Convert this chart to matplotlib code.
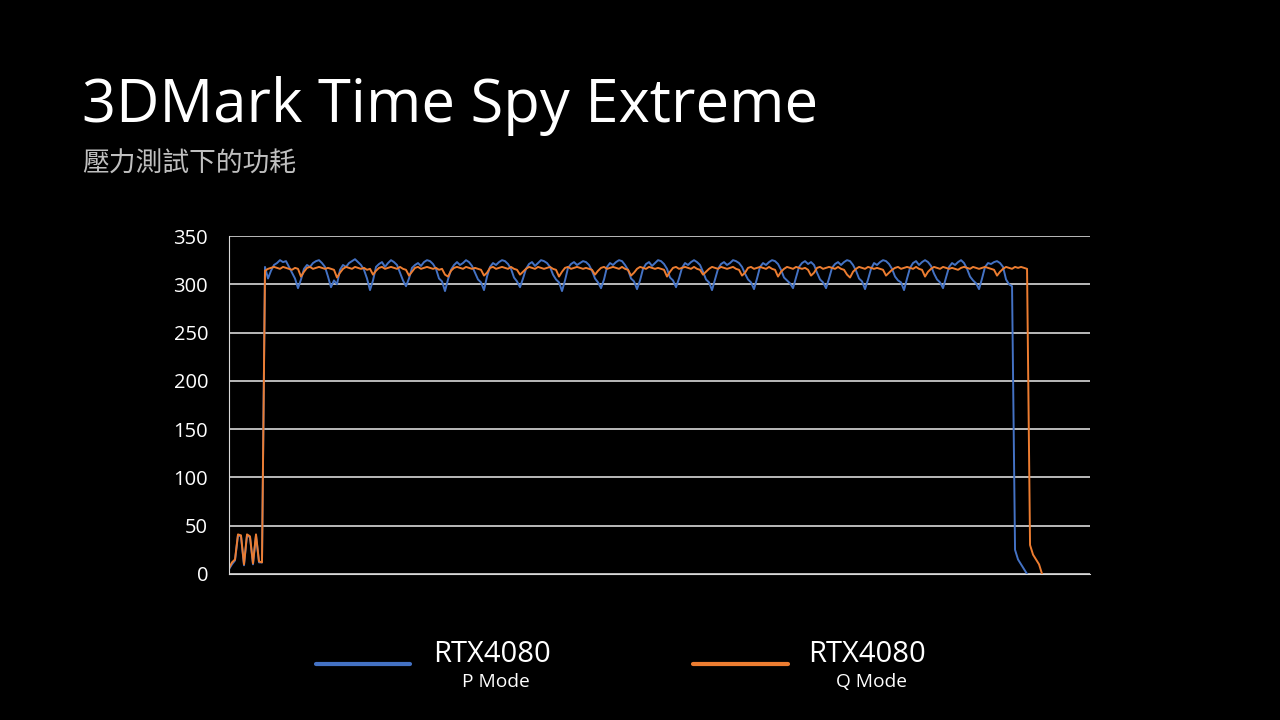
import numpy as np
import matplotlib.pyplot as plt
from matplotlib.lines import Line2D

# power draw samples (W), one sample per ~3 px
p_start = [5, 10, 14, 40, 39, 9, 40, 38, 10, 40, 12, 12]
p_body = [
    318, 306, 314, 320, 322, 325, 323, 324, 318, 312, 306, 296,
    305, 316, 320, 318, 322, 324, 325, 322, 318, 308, 297,
    304, 300, 315, 320, 318, 322, 324, 326, 323, 320, 315, 306, 294,
    304, 318, 321, 323, 318, 322, 325, 323, 320, 312, 304, 298,
    306, 317, 320, 322, 319, 323, 325, 324, 321, 316, 306, 303, 293,
    305, 315, 320, 323, 320, 322, 325, 323, 319, 312, 305, 302, 294,
    308, 318, 322, 320, 323, 325, 324, 321, 316, 307, 303, 297,
    306, 316, 321, 323, 319, 322, 325, 324, 322, 318, 310, 305, 302, 293,
    304, 317, 321, 323, 320, 322, 324, 323, 320, 314, 306, 302, 296,
    305, 318, 322, 320, 323, 325, 324, 320, 315, 306, 303, 295,
    304, 316, 321, 323, 319, 322, 325, 324, 321, 316, 307, 304, 297,
    306, 317, 322, 320, 323, 325, 323, 320, 313, 305, 302, 294,
    305, 316, 321, 323, 320, 322, 325, 324, 322, 318, 311, 305, 302, 295,
    306, 318, 322, 320, 323, 325, 324, 321, 315, 307, 304, 301, 296,
    307, 318, 322, 324, 321, 323, 320, 312, 305, 302, 296,
    306, 317, 321, 323, 320, 323, 325, 324, 320, 314, 306, 303, 295,
    305, 316, 322, 320, 323, 325, 324, 321, 316, 308, 304, 302, 294,
    306, 317, 322, 324, 320, 323, 325, 323, 319, 311, 305, 302, 296,
    307, 318, 322, 320, 323, 325, 322, 316, 308, 304, 301, 295,
    306, 318, 322, 321, 323, 324, 322, 318, 305, 300, 298,
]
p_end = [25, 15, 10, 5, 0]

q_start = [6, 12, 15, 41, 40, 10, 41, 39, 11, 41, 13, 12]
q_body = [
    314, 316, 317, 318, 317, 316, 318, 317, 316, 315, 317, 316,
    308, 313, 317, 318, 316, 317, 318, 317, 316, 317, 316, 315,
    307, 312, 316, 318, 317, 316, 318, 317, 316, 317, 315, 316, 310,
    314, 317, 318, 316, 317, 318, 317, 316, 318, 316, 315, 309,
    313, 317, 318, 316, 317, 318, 317, 316, 317, 315, 316, 310, 308,
    314, 317, 318, 317, 316, 318, 317, 316, 317, 316, 315, 309,
    312, 317, 318, 316, 317, 318, 317, 316, 318, 316, 315, 310, 313,
    316, 318, 317, 316, 318, 317, 316, 317, 318, 316, 315, 308,
    313, 317, 318, 316, 317, 318, 317, 316, 317, 316, 315, 310, 314,
    317, 318, 316, 317, 318, 317, 316, 318, 316, 315, 309, 312,
    316, 318, 317, 316, 318, 317, 316, 317, 316, 315, 308, 313,
    317, 318, 316, 317, 318, 317, 316, 318, 316, 315, 310, 313,
    316, 318, 317, 316, 318, 317, 316, 317, 318, 316, 315, 309, 312,
    317, 318, 316, 317, 318, 317, 316, 318, 316, 315, 308, 313,
    316, 318, 317, 316, 318, 317, 316, 317, 315, 309, 312,
    317, 318, 316, 317, 318, 317, 316, 318, 316, 315, 310, 307, 313,
    316, 318, 317, 316, 318, 317, 316, 317, 316, 315, 309, 312, 315,
    317, 318, 316, 317, 318, 317, 316, 318, 316, 315, 308, 313,
    316, 318, 317, 316, 318, 317, 316, 317, 316, 315, 317, 318,
    317, 316, 318, 317, 316, 317, 318, 317, 316, 315, 309, 313,
    316, 318, 317, 316, 318, 317, 318, 317, 316,
]
q_end = [30, 20, 15, 10, 0]

p_mode = p_start + p_body + p_end
q_mode = q_start + q_body + q_end

series_names = ["RTX4080\nP Mode", "RTX4080\nQ Mode"]
colors = ["#4472C4", "#ED7D31"]

plt.rcParams['font.family'] = ['Open Sans', 'Noto Sans CJK TC', 'DejaVu Sans']

fig = plt.figure(figsize=(12.8, 7.2), dpi=100, facecolor="black")
ax = fig.add_axes([0.1789, 0.2028, 0.6727, 0.4694], facecolor="black")

ax.plot(np.arange(len(p_mode)), p_mode, color=colors[0], lw=1.4)
ax.plot(np.arange(len(q_mode)), q_mode, color=colors[1], lw=1.4)

ax.set_xlim(0, 287)
ax.set_ylim(0, 350)
ax.set_yticks(range(0, 351, 50))
ax.yaxis.grid(True, color="#d9d9d9", lw=1.2)
ax.set_axisbelow(True)
ax.set_xticks([])
ax.tick_params(axis="y", length=0, pad=15, labelcolor="white", labelsize=14.5)
for s in ["top", "right"]:
    ax.spines[s].set_visible(False)
ax.spines["left"].set_color("#d9d9d9")
ax.spines["bottom"].set_color("#d9d9d9")

# title and subtitle
fig.text(0.064, 0.831, "3DMark Time Spy Extreme", color="white", fontsize=43,
         fontfamily=["Open Sans", "DejaVu Sans"], va="baseline")
fig.text(0.064, 0.762, "壓力測試下的功耗", color="#bfbfbf", fontsize=19.3,
         fontfamily=["Noto Sans CJK TC", "DejaVu Sans"], va="baseline")

# legend drawn by hand
leg_lines = [(316, 410), (693, 788)]
for (x0, x1), c, name, tx in zip(leg_lines, colors, series_names, [492, 867]):
    fig.add_artist(Line2D([x0 / 1280, x1 / 1280], [1 - 664 / 720] * 2,
                          color=c, lw=3, solid_capstyle="round"))
    top, bottom = name.split("\n")
    fig.text(tx / 1280, 1 - 655 / 720, top, color="white", fontsize=21,
             ha="center", va="center")
    fig.text((tx + 4) / 1280, 1 - 682 / 720, bottom, color="white", fontsize=13.8,
             ha="center", va="center")

fig.savefig("out.png", dpi=100, facecolor="black")
